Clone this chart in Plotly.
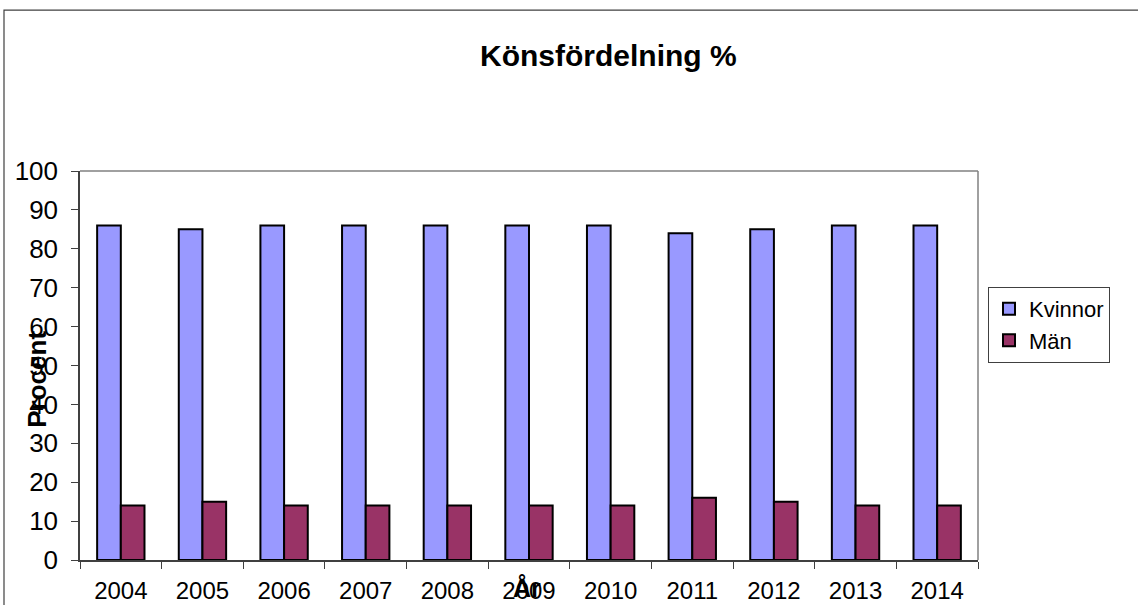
import plotly.graph_objects as go

years = ["2004", "2005", "2006", "2007", "2008", "2009", "2010", "2011", "2012", "2013", "2014"]
kvinnor = [86, 85, 86, 86, 86, 86, 86, 84, 85, 86, 86]
man = [14, 15, 14, 14, 14, 14, 14, 16, 15, 14, 14]

FONT = "Liberation Sans, Arial, sans-serif"

fig = go.Figure()
fig.add_trace(go.Bar(x=years, y=kvinnor, name="Kvinnor",
                     marker=dict(color="#9999FF", line=dict(color="black", width=2))))
fig.add_trace(go.Bar(x=years, y=man, name="Män",
                     marker=dict(color="#993366", line=dict(color="black", width=2))))

W, H = 1138, 605
L, R, T, B = 80, 978, 171, 560.5
pw, ph = R - L, B - T

def px(x):
    return (x - L) / pw

def py(y):
    return (B - y) / ph

fig.update_layout(
    width=W, height=H, autosize=False,
    margin=dict(l=L, r=W - R, t=T, b=H - B, pad=0, autoexpand=False),
    paper_bgcolor="white", plot_bgcolor="white",
    barmode="group", bargap=0.42, bargroupgap=0,
    font=dict(family=FONT, size=22, color="black"),
    showlegend=True,
    legend=dict(x=px(988), y=py(287), xanchor="left", yanchor="top",
                bordercolor="#404040", borderwidth=1, bgcolor="white",
                font=dict(size=22, family=FONT), tracegroupgap=0,
                itemwidth=30),
    xaxis=dict(showline=True, linecolor="#404040", linewidth=1.5,
               ticks="outside", ticklen=7, tickcolor="#404040",
               tickson="boundaries", showgrid=False, mirror=False,
               tickfont=dict(size=24), ticklabelstandoff=8,
               automargin=False, fixedrange=True),
    yaxis=dict(range=[0, 100], dtick=10, showline=True, linecolor="#404040",
               linewidth=1.5, ticks="outside", ticklen=7, tickcolor="#404040",
               showgrid=False, zeroline=False, tickfont=dict(size=26),
               ticklabelstandoff=8, automargin=False, fixedrange=True),
    shapes=[
        # outer chart border
        dict(type="rect", xref="paper", yref="paper",
             x0=px(4), y0=py(640), x1=px(1160), y1=py(10),
             line=dict(color="#404040", width=1.2), layer="below"),
        # plot area frame (top / right)
        dict(type="line", xref="paper", yref="paper", x0=0, y0=1, x1=1, y1=1,
             line=dict(color="#808080", width=1.5)),
        dict(type="line", xref="paper", yref="paper", x0=1, y0=0, x1=1, y1=1,
             line=dict(color="#808080", width=1.5)),
    ],
    annotations=[
        dict(text="<b>Könsfördelning %</b>", xref="paper", yref="paper",
             x=px(608), y=py(55), xanchor="center", yanchor="middle",
             showarrow=False, font=dict(size=30, family=FONT)),
        dict(text="<b>Procent</b>", xref="paper", yref="paper",
             x=px(37), y=py(380), xanchor="center", yanchor="middle",
             textangle=-90, showarrow=False, font=dict(size=26, family=FONT)),
        dict(text="<b>År</b>", xref="paper", yref="paper",
             x=px(527), y=py(589), xanchor="center", yanchor="middle",
             showarrow=False, font=dict(size=25, family=FONT)),
    ],
)

fig.write_html("out.html", config=dict(displayModeBar=False),
               post_script="document.body.style.margin='0px';document.body.style.overflow='hidden';")
